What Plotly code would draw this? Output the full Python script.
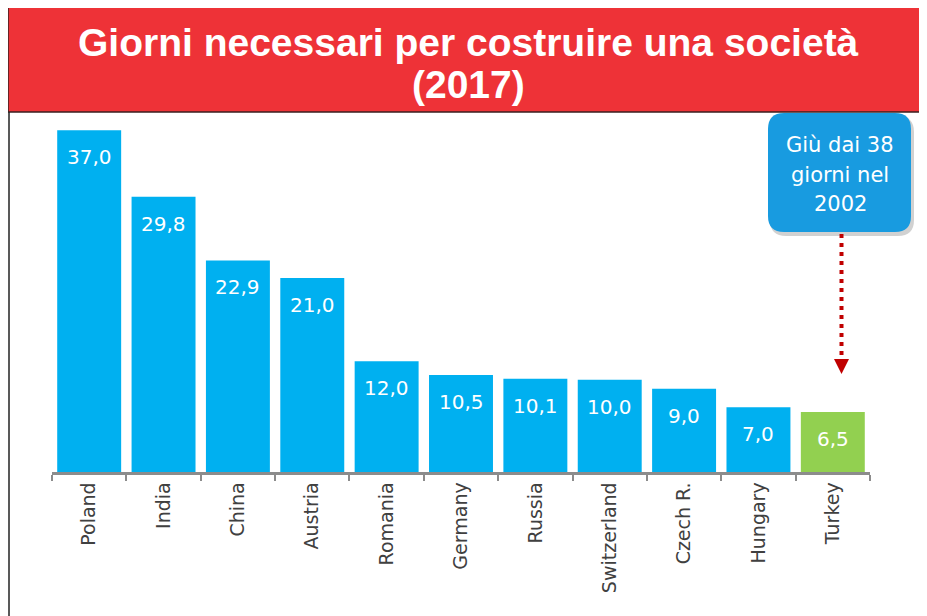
import plotly.graph_objects as go

categories = ["Poland", "India", "China", "Austria", "Romania", "Germany",
              "Russia", "Switzerland", "Czech R.", "Hungary", "Turkey"]
values = [37.0, 29.8, 22.9, 21.0, 12.0, 10.5, 10.1, 10.0, 9.0, 7.0, 6.5]
highlight = "Turkey"
title_lines = ["Giorni necessari per costruire una società", "(2017)"]
callout_lines = ["Giù dai 38", "giorni nel", "2002"]

OFF = 8  # page body margin
W, H = 927 - OFF, 616 - OFF
L, R, T, B = 52 - OFF, W - (870 - OFF), 121 - OFF, H - (472 - OFF)
PW, PH = W - L - R, H - T - B


def px(x):
    return (x - OFF - L) / PW


def py(y):
    return (H - B - (y - OFF)) / PH


colors = ["#92D050" if c == highlight else "#00B0F0" for c in categories]

fig = go.Figure()
fig.add_trace(go.Bar(
    x=categories, y=values, marker=dict(color=colors, line=dict(width=0)),
    hoverinfo="skip"
))

shapes = []
# red title banner
shapes.append(dict(type="rect", xref="paper", yref="paper",
                   x0=px(8), x1=px(940), y0=py(112), y1=py(3),
                   fillcolor="#EE3237", line=dict(color="#3a2020", width=1.5),
                   layer="below"))
# left frame line
shapes.append(dict(type="line", xref="paper", yref="paper",
                   x0=px(9), x1=px(9), y0=py(112), y1=py(620),
                   line=dict(color="#222222", width=1.5)))


def rounded(x0, y0, x1, y1, r):
    X0, X1 = px(x0), px(x1)
    Y0, Y1 = py(y0), py(y1)
    rx, ry = r / PW, r / PH
    return (f"M {X0+rx},{Y0} L {X1-rx},{Y0} Q {X1},{Y0} {X1},{Y0-ry} "
            f"L {X1},{Y1+ry} Q {X1},{Y1} {X1-rx},{Y1} L {X0+rx},{Y1} "
            f"Q {X0},{Y1} {X0},{Y1+ry} L {X0},{Y0-ry} Q {X0},{Y0} {X0+rx},{Y0} Z")


# callout shadow + box
shapes.append(dict(type="path", xref="paper", yref="paper",
                   path=rounded(770, 116, 914, 236, 16),
                   fillcolor="rgba(0,0,0,0.18)", line=dict(width=0)))
shapes.append(dict(type="path", xref="paper", yref="paper",
                   path=rounded(768, 113, 911, 232, 16),
                   fillcolor="#189BE0", line=dict(width=0)))
# dotted arrow
shapes.append(dict(type="line", xref="paper", yref="paper",
                   x0=px(841.5), x1=px(841.5), y0=py(234), y1=py(358),
                   line=dict(color="#C00000", width=4, dash="4px,5px")))
shapes.append(dict(type="path", xref="paper", yref="paper",
                   path=f"M {px(834)},{py(359)} L {px(849)},{py(359)} L {px(841.5)},{py(374)} Z",
                   fillcolor="#C00000", line=dict(width=0)))

annotations = []
# title
annotations.append(dict(xref="paper", yref="paper", x=px(468), y=py(42),
                        text=f"<b>{title_lines[0]}</b>", showarrow=False,
                        xanchor="center", yanchor="middle",
                        font=dict(family="Liberation Sans", size=39, color="white")))
annotations.append(dict(xref="paper", yref="paper", x=px(468), y=py(85),
                        text=f"<b>{title_lines[1]}</b>", showarrow=False,
                        xanchor="center", yanchor="middle",
                        font=dict(family="Liberation Sans", size=39, color="white")))
# callout text
for i, line in enumerate(callout_lines):
    annotations.append(dict(xref="paper", yref="paper", x=px(840), y=py(145 + 29.5 * i),
                            text=line, showarrow=False, xanchor="center", yanchor="middle",
                            font=dict(family="DejaVu Sans", size=21, color="white")))
# bar value labels
for c, v in zip(categories, values):
    annotations.append(dict(x=c, y=v, xref="x", yref="y", showarrow=False,
                            text=f"{v:.1f}".replace(".", ","), yanchor="top", yshift=-13,
                            font=dict(family="DejaVu Sans", size=20, color="white")))

fig.update_layout(
    width=W, height=H,
    margin=dict(l=L, r=R, t=T, b=B),
    paper_bgcolor="white", plot_bgcolor="white",
    bargap=0.14, showlegend=False,
    shapes=shapes, annotations=annotations,
    xaxis=dict(type="category", tickangle=-90, showline=True, linecolor="#8C8C8C",
               linewidth=2.5, ticks="outside", ticklen=6, tickwidth=2, tickcolor="#8C8C8C",
               tickson="boundaries", showgrid=False, zeroline=False,
               tickfont=dict(family="DejaVu Sans", size=19, color="#404040")),
    yaxis=dict(range=[0, 38], visible=False, showgrid=False, zeroline=False),
)

fig.write_html("out.html")
